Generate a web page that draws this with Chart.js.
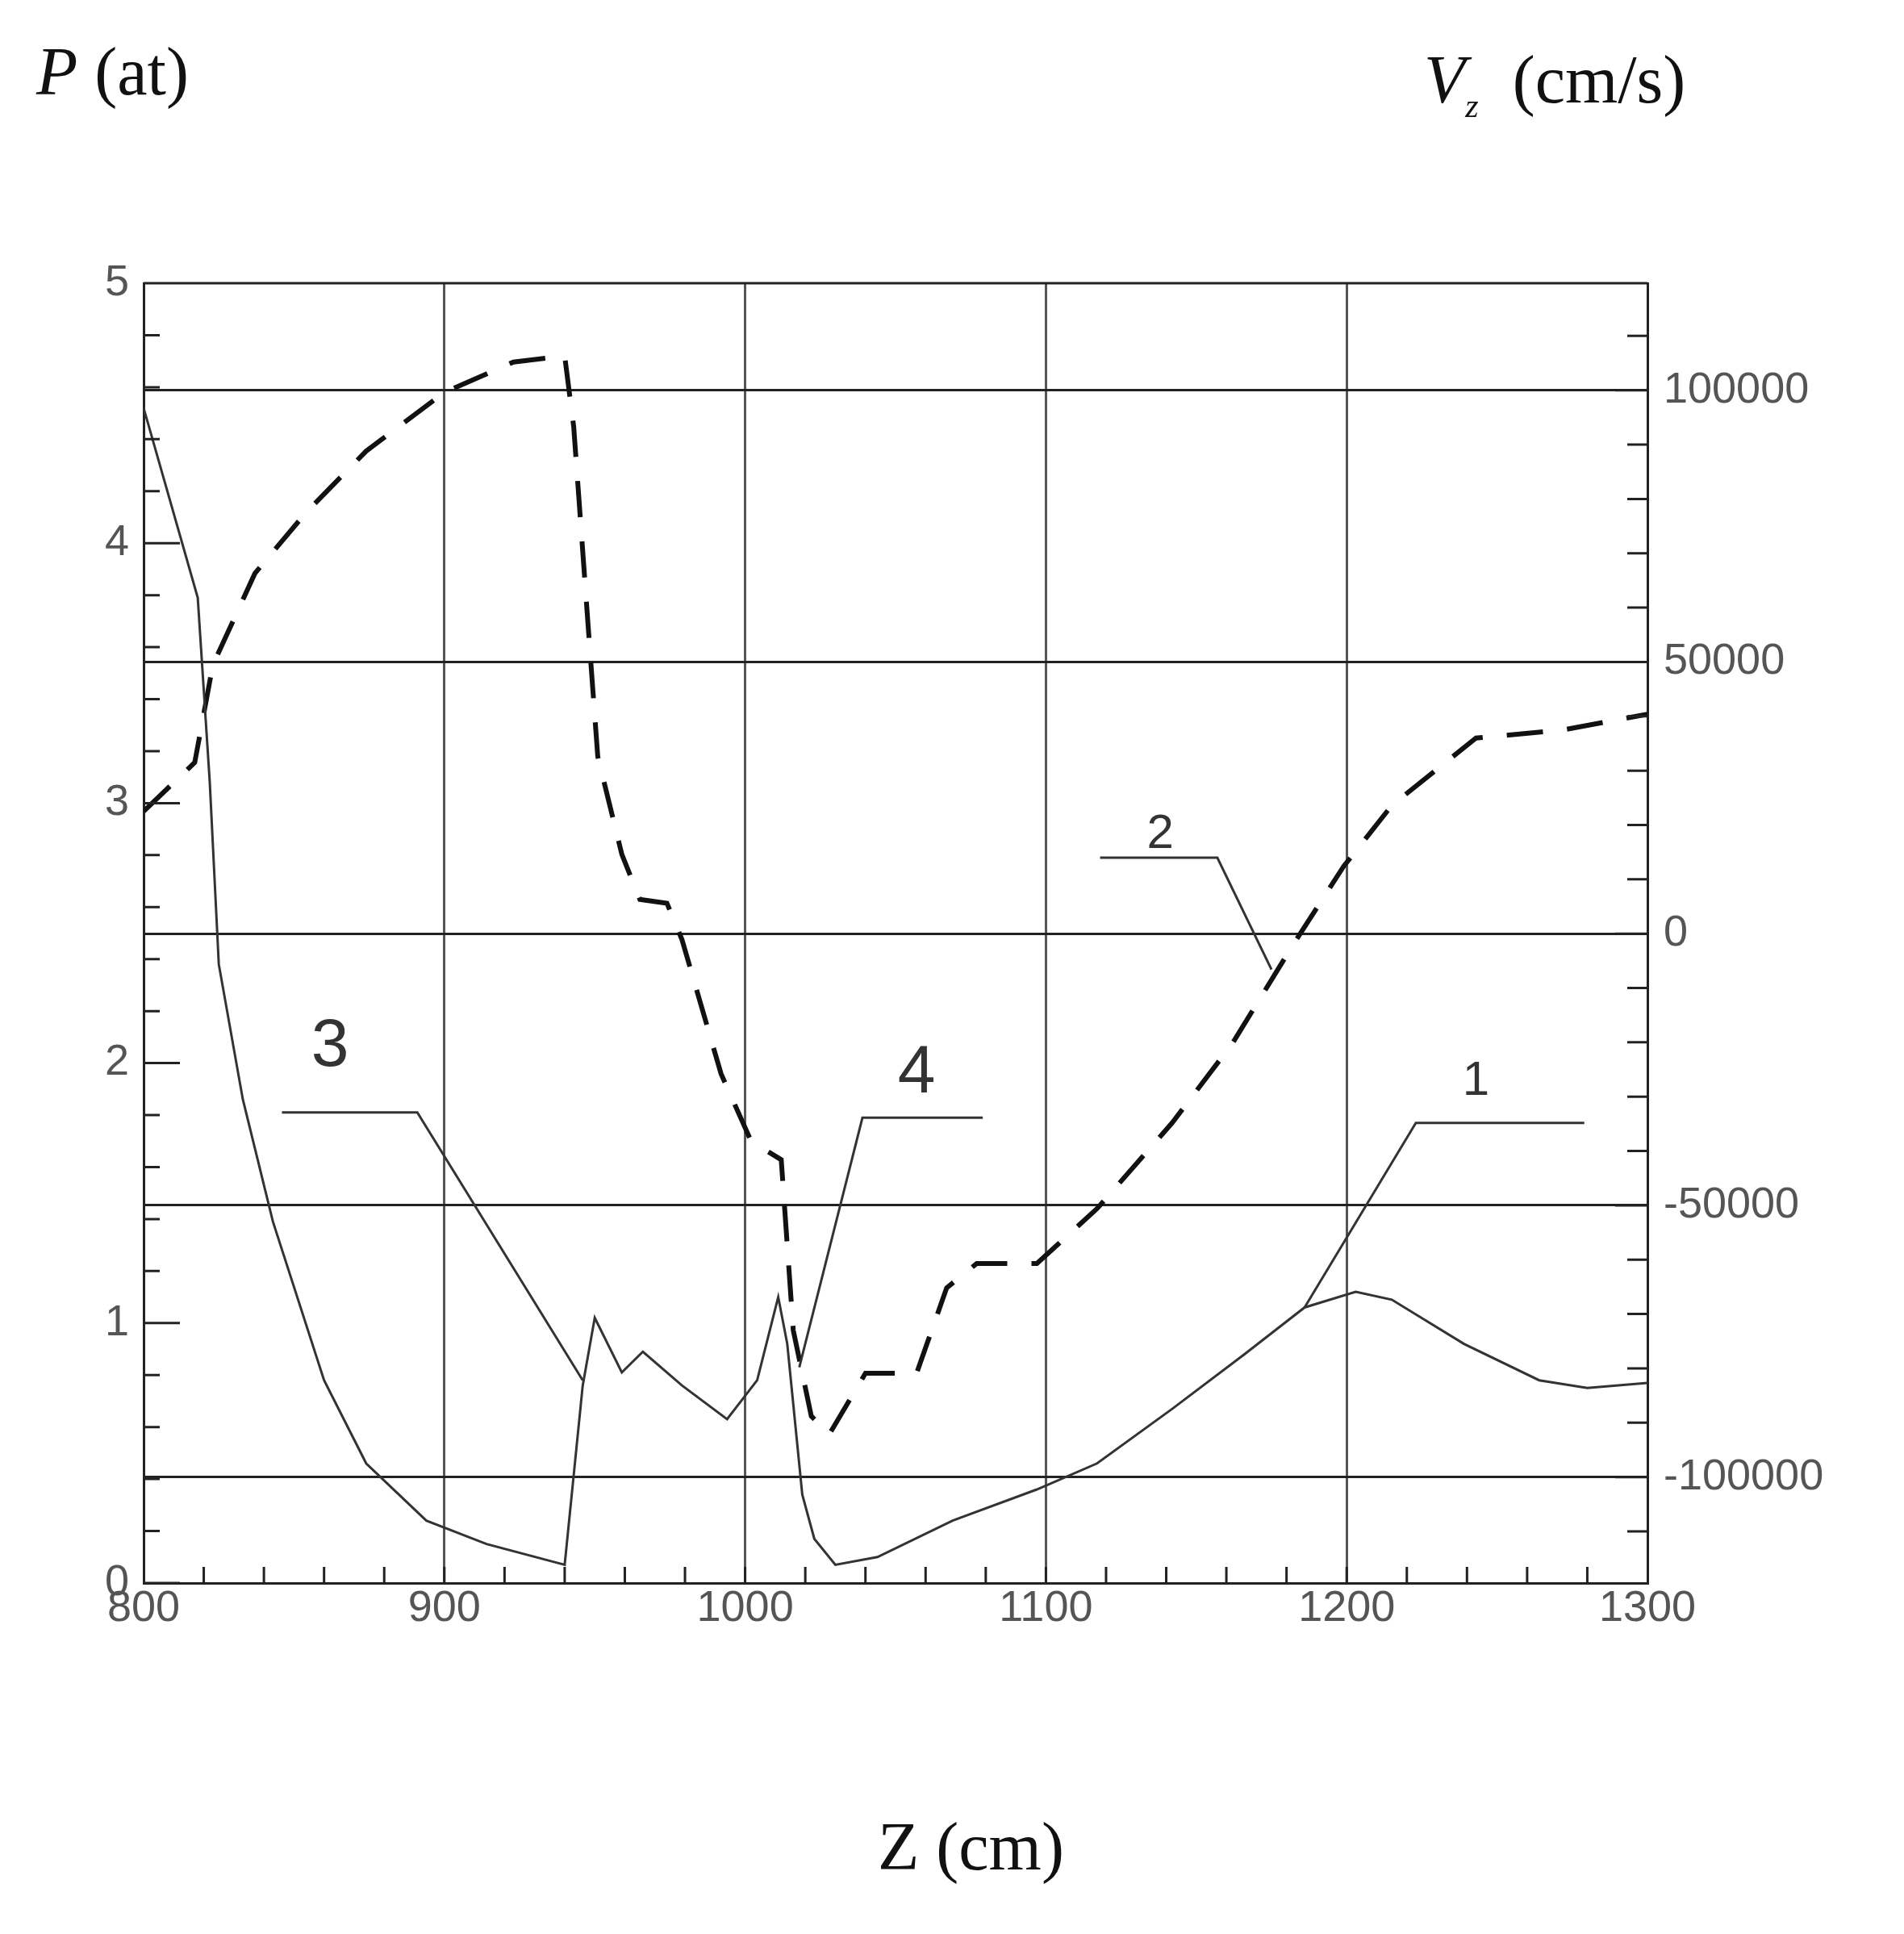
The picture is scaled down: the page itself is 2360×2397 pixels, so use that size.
<!DOCTYPE html>
<html><head><meta charset="utf-8">
<script src="https://cdn.jsdelivr.net/npm/chart.js@4"></script>
<style>
body{margin:0;background:#fff;width:2360px;height:2397px;position:relative;overflow:hidden}
#c{position:absolute;left:0;top:0}
.t{position:absolute;font-family:"Liberation Serif",serif;font-size:84px;color:#111;white-space:nowrap}
</style></head><body>
<canvas id="c" width="2360" height="2397"></canvas>
<div class="t" style="left:45px;top:40px"><i>P</i> (at)</div>
<div class="t" style="left:1765px;top:50px"><i>V<sub style="font-size:42px">z</sub></i>&nbsp; (cm/s)</div>
<div class="t" style="left:1088px;top:2240px">Z (cm)</div>
<script>
// curve 1: pressure P (at) vs Z (cm)
const zP = [800,818,822,825,833,843,860,874,894,914,940,946,950,959,966,979,994,1004,1011,1014,1019,1023,1030,1044,1069,1097,1117,1142,1166,1186,1203,1215,1239,1264,1280,1300];
const pVals = [4.52,3.79,3.08,2.38,1.86,1.39,0.78,0.46,0.24,0.15,0.07,0.76,1.02,0.81,0.89,0.76,0.63,0.78,1.10,0.92,0.34,0.17,0.07,0.10,0.24,0.36,0.46,0.67,0.88,1.06,1.12,1.09,0.92,0.78,0.75,0.77];
// curve 2: velocity Vz (cm/s) vs Z (cm)
const zV = [800,817,823,837,854,874,900,923,940,943,948,951,959,965,974,979,992,1002,1012,1016,1022,1028,1040,1057,1067,1077,1097,1117,1142,1162,1182,1199,1215,1243,1272,1300];
const vVals = [22500,31500,49400,66300,77500,88800,99600,105200,106300,93300,55100,32600,14600,6300,5600,-1100,-25800,-38200,-41600,-73000,-88800,-92100,-80900,-80900,-65200,-60700,-60700,-50600,-34800,-20200,-2200,12400,23600,36000,37500,40400];
const xTicks = [800,900,1000,1100,1200,1300];
const vTicks = [-100000,-50000,0,50000,100000];
// leader labels: text, text pos, polyline (Z, P)
const labels = [
  {t:"3", at:[862,2.06], pts:[[846,1.81],[891,1.81],[946,0.78]], size:84},
  {t:"4", at:[1057,1.96], pts:[[1079,1.79],[1039,1.79],[1018,0.83]], size:84},
  {t:"2", at:[1138,2.88], pts:[[1118,2.79],[1157,2.79],[1175,2.36]], size:60},
  {t:"1", at:[1243,1.93], pts:[[1279,1.77],[1223,1.77],[1186,1.06]], size:60}
];

const decor = {
  id: "decor",
  afterDraw(ch) {
    const c = ch.ctx, x = ch.scales.x, y = ch.scales.y, y1 = ch.scales.y1, a = ch.chartArea;
    c.save();
    c.strokeStyle = "#222"; c.lineWidth = 3;
    c.beginPath();
    c.moveTo(a.left, a.top); c.lineTo(a.right, a.top);
    // inward ticks
    for (let v = 0; v <= 5.001; v += 0.2) {
      const py = y.getPixelForValue(v), big = Math.abs(v - Math.round(v)) < 0.01;
      c.moveTo(a.left, py); c.lineTo(a.left + (big ? 45 : 20), py);
    }
    for (let v = -110000; v <= 110000; v += 10000) {
      const py = y1.getPixelForValue(v);
      c.moveTo(a.right, py); c.lineTo(a.right - (v % 50000 === 0 ? 40 : 25), py);
    }
    for (let v = 820; v < 1300; v += 20) {
      const px = x.getPixelForValue(v);
      c.moveTo(px, a.bottom); c.lineTo(px, a.bottom - 20);
    }
    c.stroke();
    // leader lines
    c.lineWidth = 3; c.strokeStyle = "#333"; c.fillStyle = "#333";
    c.textAlign = "center"; c.textBaseline = "middle";
    labels.forEach(l => {
      c.beginPath();
      l.pts.forEach((p, i) => {
        const px = x.getPixelForValue(p[0]), py = y.getPixelForValue(p[1]);
        i ? c.lineTo(px, py) : c.moveTo(px, py);
      });
      c.stroke();
      c.font = l.size + "px 'Liberation Sans', Arial, sans-serif";
      c.fillText(l.t, x.getPixelForValue(l.at[0]), y.getPixelForValue(l.at[1]));
    });
    c.restore();
  }
};

const tickFont = {size: 54, family: "'Liberation Sans', Arial"};
new Chart(document.getElementById("c"), {
  type: "line",
  data: {
    datasets: [
      {data: zP.map((z, i) => ({x: z, y: pVals[i]})), yAxisID: "y", borderColor: "#333", borderWidth: 3, pointRadius: 0, tension: 0},
      {data: zV.map((z, i) => ({x: z, y: vVals[i]})), yAxisID: "y1", borderColor: "#111", borderWidth: 6, borderDash: [45, 30], pointRadius: 0, tension: 0}
    ]
  },
  options: {
    responsive: false, animation: false,
    layout: {padding: {top: 351, left: 0, right: 0, bottom: 0}},
    plugins: {legend: {display: false}, tooltip: {enabled: false}},
    scales: {
      x: {
        type: "linear", min: 800, max: 1300,
        afterBuildTicks: s => { s.ticks = xTicks.map(v => ({value: v})); },
        afterFit: s => { s.height = 435; },
        ticks: {color: "#555", font: tickFont, padding: 0, callback: v => String(v)},
        grid: {color: "#555", lineWidth: 3, drawTicks: false},
        border: {color: "#222", width: 3}
      },
      y: {
        position: "left", min: 0, max: 5,
        afterBuildTicks: s => { s.ticks = [0,1,2,3,4,5].map(v => ({value: v})); },
        afterFit: s => { s.width = 178; },
        ticks: {color: "#555", font: tickFont, padding: 18},
        grid: {display: false, drawTicks: false},
        border: {color: "#222", width: 3}
      },
      y1: {
        position: "right", min: -119500, max: 119700,
        afterBuildTicks: s => { s.ticks = vTicks.map(v => ({value: v})); },
        afterFit: s => { s.width = 318; },
        ticks: {color: "#555", font: tickFont, padding: 20, callback: v => String(v)},
        grid: {color: "#222", lineWidth: 3, drawTicks: false},
        border: {color: "#222", width: 3}
      }
    }
  },
  plugins: [decor]
});
</script>
</body></html>
